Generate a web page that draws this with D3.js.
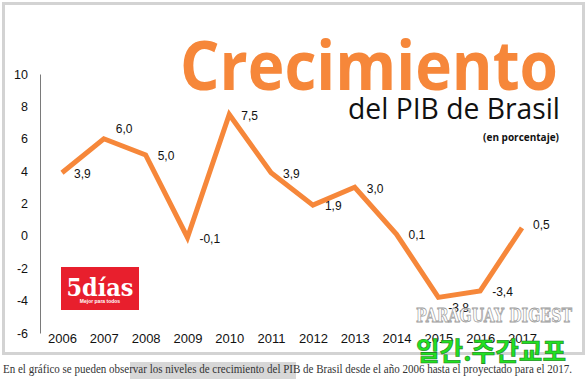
<!DOCTYPE html>
<html>
<head>
<meta charset="utf-8">
<script src="https://cdn.jsdelivr.net/npm/d3@7"></script>
<style>
  body { margin: 0; background: #fff; }
  svg { display: block; }
</style>
</head>
<body>
<div id="chart"></div>
<script>
// data
var years = ["2006","2007","2008","2009","2010","2011","2012","2013","2014","2015","2016","2017"];
var values = [3.9, 6.0, 5.0, -0.1, 7.5, 3.9, 1.9, 3.0, 0.1, -3.8, -3.4, 0.5];
var yTicks = [-6, -4, -2, 0, 2, 4, 6, 8, 10];

var dataset = years.map(function(y, i){ return { year: y, value: values[i] }; });

var width = 588, height = 379;
var orange = "#f6873a";

var svg = d3.select("#chart")
	.append("svg")
	.attr("width", width)
	.attr("height", height);

// outer frame
svg.append("rect")
	.attr("x", 3.5).attr("y", 3.5)
	.attr("width", 580).attr("height", 350)
	.attr("fill", "#fff")
	.attr("stroke", "#d3d3d3")
	.attr("stroke-width", 3);

var xScale = d3.scalePoint()
	.domain(years)
	.range([62, 522]);

var yScale = d3.scaleLinear()
	.domain([-6, 10])
	.range([333, 74]);

var yAxis = d3.axisLeft(yScale)
	.tickValues(yTicks)
	.tickFormat(function(d){ return d; })
	.tickSizeInner(0)
	.tickSizeOuter(0)
	.tickPadding(12);

var gy = svg.append("g")
	.attr("transform", "translate(40,0)")
	.call(yAxis);
gy.select(".domain").attr("stroke", "#7a7a7a");
gy.selectAll("text")
	.attr("font-family", "'Liberation Sans', Arial, sans-serif")
	.attr("font-size", 12.5)
	.attr("fill", "#111");

var xAxis = d3.axisBottom(xScale)
	.tickSizeInner(0)
	.tickSizeOuter(0)
	.tickPadding(1);

var gx = svg.append("g")
	.attr("transform", "translate(0,333)")
	.call(xAxis);
gx.select(".domain").remove();
gx.selectAll("text")
	.attr("font-family", "'Liberation Sans', Arial, sans-serif")
	.attr("font-size", 13)
	.attr("fill", "#111");

// titles
svg.append("text")
	.attr("x", 180).attr("y", 90)
	.attr("font-family", "'Open Sans', sans-serif")
	.attr("font-weight", 700)
	.attr("font-size", 68)
	.attr("textLength", 378)
	.attr("lengthAdjust", "spacingAndGlyphs")
	.attr("fill", orange)
	.text("Crecimiento");

svg.append("text")
	.attr("x", 348).attr("y", 119)
	.attr("font-family", "'Open Sans', sans-serif")
	.attr("font-size", 30)
	.attr("textLength", 212)
	.attr("lengthAdjust", "spacingAndGlyphs")
	.attr("fill", "#111")
	.text("del PIB de Brasil");

svg.append("text")
	.attr("x", 559).attr("y", 141)
	.attr("text-anchor", "end")
	.attr("font-family", "'Open Sans', sans-serif")
	.attr("font-weight", 700)
	.attr("font-size", 10)
	.attr("fill", "#111")
	.text("(en porcentaje)");

// logo
var logo = svg.append("g");
logo.append("rect")
	.attr("x", 61).attr("y", 267)
	.attr("width", 78).attr("height", 43)
	.attr("fill", "#e81f2d");
logo.append("text")
	.attr("x", 100).attr("y", 296)
	.attr("text-anchor", "middle")
	.attr("font-family", "'DejaVu Serif', serif")
	.attr("font-weight", 700)
	.attr("font-size", 24)
	.attr("textLength", 67)
	.attr("lengthAdjust", "spacingAndGlyphs")
	.attr("fill", "#fff")
	.text("5días");
logo.append("text")
	.attr("x", 100).attr("y", 303)
	.attr("text-anchor", "middle")
	.attr("font-family", "'Liberation Sans', sans-serif")
	.attr("font-weight", 700)
	.attr("font-size", 5)
	.attr("fill", "#fff")
	.text("Mejor para todos");

// line
var line = d3.line()
	.x(function(d){ return xScale(d.year); })
	.y(function(d){ return yScale(d.value); });

svg.append("path")
	.datum(dataset)
	.attr("d", line)
	.attr("fill", "none")
	.attr("stroke", orange)
	.attr("stroke-width", 5)
	.attr("stroke-linejoin", "miter");

// value labels
var labelShift = { "2007": [12, -10], "2015": [10, 10], "2017": [11, -3] };
svg.append("g")
	.selectAll("text")
	.data(dataset)
	.enter().append("text")
	.attr("x", function(d){ return xScale(d.year) + (labelShift[d.year] ? labelShift[d.year][0] : 12); })
	.attr("y", function(d){ return yScale(d.value) + (labelShift[d.year] ? labelShift[d.year][1] : 1); })
	.attr("dy", "0.35em")
	.attr("font-family", "'Liberation Sans', Arial, sans-serif")
	.attr("font-size", 12)
	.attr("fill", "#111")
	.text(function(d){ return d3.format(".1f")(d.value).replace(".", ",").replace("−", "-"); });

// watermarks
svg.append("text")
	.attr("x", 494).attr("y", 322)
	.attr("text-anchor", "middle")
	.attr("font-family", "'DejaVu Serif', serif")
	.attr("font-weight", 700)
	.attr("font-size", 18)
	.attr("textLength", 156)
	.attr("lengthAdjust", "spacingAndGlyphs")
	.attr("fill", "#fff")
	.attr("stroke", "#9a9a9a")
	.attr("stroke-width", 0.8)
	.text("PARAGUAY DIGEST");

svg.append("text")
	.attr("x", 491).attr("y", 361)
	.attr("text-anchor", "middle")
	.attr("font-family", "'Noto Sans CJK KR', sans-serif")
	.attr("font-weight", 700)
	.attr("font-size", 26)
	.attr("textLength", 150)
	.attr("lengthAdjust", "spacingAndGlyphs")
	.attr("fill", "#22e022")
	.attr("stroke", "#1a7a1a")
	.attr("stroke-width", 0.6)
	.text("일간.주간교포");

// caption
svg.append("rect")
	.attr("x", 130).attr("y", 362)
	.attr("width", 166).attr("height", 17)
	.attr("fill", "#bdbdbd")
	.attr("opacity", 0.6);

svg.append("text")
	.attr("x", 3).attr("y", 373)
	.attr("font-family", "'Liberation Serif', serif")
	.attr("font-size", 11.5)
	.attr("textLength", 569)
	.attr("lengthAdjust", "spacingAndGlyphs")
	.attr("fill", "#333")
	.text("En el gráfico se pueden observar los niveles de crecimiento del PIB de Brasil desde el año 2006 hasta el proyectado para el 2017.");
</script>
</body>
</html>
